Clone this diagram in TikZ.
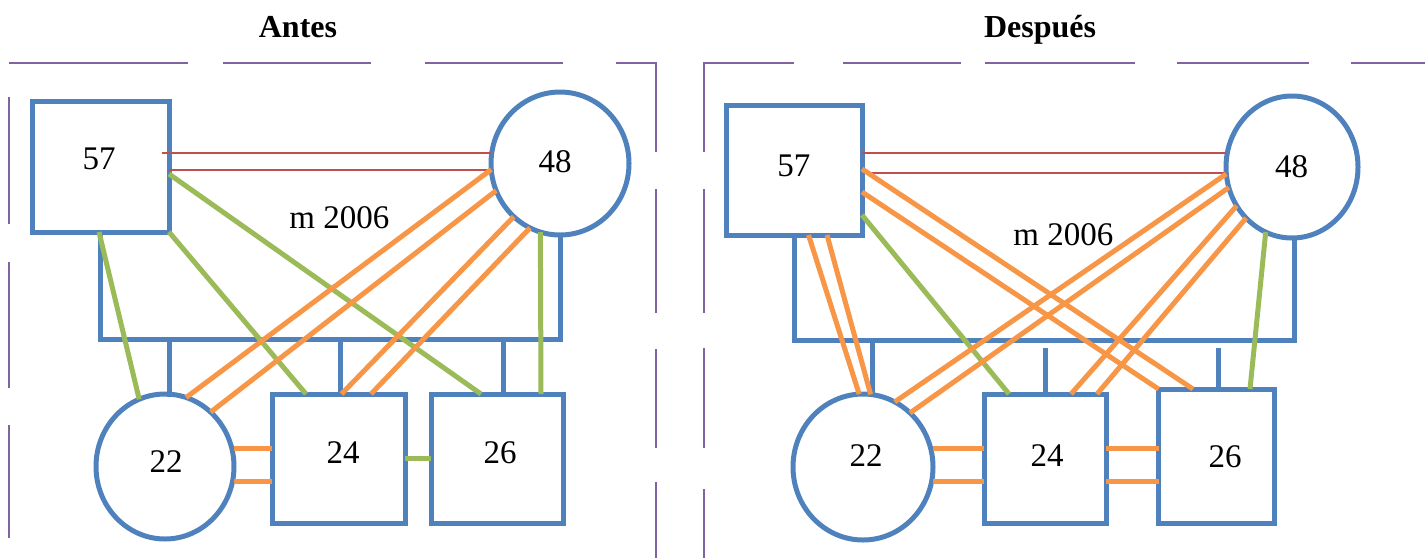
\documentclass[tikz,border=0pt]{standalone}
\usepackage{fontspec}
\setmainfont{Liberation Serif}
\usetikzlibrary{shapes.geometric,calc}
\definecolor{oblue}{HTML}{4F81BD}
\definecolor{oorange}{HTML}{F79646}
\definecolor{ogreen}{HTML}{9BBB59}
\definecolor{ored}{HTML}{C0504D}
\definecolor{opurple}{HTML}{8064A2}
\begin{document}
\begin{tikzpicture}[x=1pt,y=-1pt,
  sq/.style={rectangle,draw=oblue,line width=5pt,inner sep=0pt,outer sep=0pt},
  circ/.style={ellipse,draw=oblue,line width=5pt,inner sep=0pt,outer sep=0pt},
  fam/.style={draw=oblue,line width=5pt,line cap=rect},
  gr/.style={draw=ogreen,line width=5pt},
  orl/.style={draw=oorange,line width=5pt},
  rd/.style={draw=ored,line width=1.8pt},
  frame/.style={draw=opurple,line width=1.8pt},
  lab/.style={font=\fontsize{33}{40}\selectfont,inner sep=0pt,anchor=base},
  ttl/.style={font=\fontsize{32}{38}\selectfont\bfseries,inner sep=0pt,anchor=base}]
\useasboundingbox (0,0) rectangle (1425,558);

% dashed frames
\draw[frame] (9,63)--(187.5,63) (223,63)--(370.5,63) (425,63)--(562.5,63);
\draw[frame] (616,63)--(656,63)--(656,152);
\draw[frame] (656,189)--(656,313) (656,349)--(656,448) (656,482)--(656,558);
\draw[frame] (9,97)--(9,224) (9,262)--(9,388) (9,425)--(9,538);
\draw[frame] (704,152)--(704,63)--(794,63);
\draw[frame] (843,63)--(961,63) (985,63)--(1135,63) (1177,63)--(1309,63) (1351,63)--(1425,63);
\draw[frame] (704,189)--(704,313) (704,348)--(704,448) (704,489)--(704,558);

% titles
\node[ttl] (tA) at (298,37.5) {Antes};
\node[ttl] (tD) at (1040,37.5) {Después};

% left nodes
\node[sq,minimum width=137pt,minimum height=131pt] (L57) at (100.5,166.5) {};
\node[circ,minimum width=138pt,minimum height=143pt] (L48) at (560,163.5) {};
\node[circ,minimum width=138pt,minimum height=145pt] (L22) at (165,466.5) {};
\node[sq,minimum width=133pt,minimum height=129pt] (L24) at (338.5,458.5) {};
\node[sq,minimum width=132pt,minimum height=129pt] (L26) at (497,458.5) {};

% right nodes
\node[sq,minimum width=136pt,minimum height=130pt] (R57) at (794,170) {};
\node[circ,minimum width=132pt,minimum height=142pt] (R48) at (1292,167) {};
\node[circ,minimum width=140pt,minimum height=146pt] (R22) at (863,467) {};
\node[sq,minimum width=122pt,minimum height=129pt] (R24) at (1045,458.5) {};
\node[sq,minimum width=116pt,minimum height=134pt] (R26) at (1216.5,456) {};

% labels
\node[lab] (l57) at (99,169.3) {57};
\node[lab] (l48) at (555,172.7) {48};
\node[lab] (lm) at (339.3,228.3) {m 2006};
\node[lab] (l22) at (166,472.3) {22};
\node[lab] (l24) at (343,463.3) {24};
\node[lab] (l26) at (500,463.3) {26};
\node[lab] (r57) at (793.8,176) {57};
\node[lab] (r48) at (1291.5,177.3) {48};
\node[lab] (rm) at (1063.4,245.7) {m 2006};
\node[lab] (r22) at (866,466.7) {22};
\node[lab] (r24) at (1047,466) {24};
\node[lab] (r26) at (1225,467.3) {26};

% ---------- left family lines
\coordinate (Lbar) at (328,339);
\draw[fam] (L57.south) -- (L57.south |- Lbar) -- (L48.south |- Lbar) -- (L48.south);
\path ([xshift=4pt]L22.north) coordinate (Ld22)
      ([xshift=1.5pt]L24.north) coordinate (Ld24)
      ([xshift=6.5pt]L26.north) coordinate (Ld26);
\draw[fam] (Ld22) -- (Ld22 |- Lbar);
\draw[fam] (Ld24) -- (Ld24 |- Lbar);
\draw[fam] (Ld26) -- (Ld26 |- Lbar);

% left red double
\path ([xshift=-7pt,yshift=13.5pt]L57.east) coordinate (Lr1)
      ([yshift=-3.5pt]L57.east) coordinate (Lr2);
\draw[rd] (Lr1) -- (Lr1 -| L48.west);
\draw[rd] (Lr2) -- (Lr2 -| L48.west);

% left green
\draw[gr] ([xshift=-1.5pt]L57.south) -- (L22.111);
\draw[gr] (L57.south east) -- ([xshift=-32.5pt]L24.north);
\draw[gr] ([yshift=-7.5pt]L57.east) -- ([xshift=-16pt]L26.north);
\draw[gr] (L48.254.5) -- ([xshift=44pt]L26.north);
\draw[gr] (L24.east) -- (L26.west);

% left orange
\draw[orl] (L48.185) -- (L22.73);
\draw[orl] (L48.203) -- (L22.50);
\draw[orl] (L48.229) -- ([xshift=3pt]L24.north);
\draw[orl] (L48.245) -- ([xshift=32.5pt]L24.north);
\path ([yshift=10.5pt]L24.west) coordinate (La1)
      ([yshift=-22.5pt]L24.west) coordinate (La2);
\draw[orl] (La1) -- (La1 -| L22.east);
\draw[orl] (La2) -- (La2 -| L22.east);

% ---------- right family lines
\coordinate (Rbar) at (1040,340);
\path ([xshift=2.6pt]R48.south) coordinate (Rd48);
\draw[fam] (R57.south) -- (R57.south |- Rbar) -- (Rd48 |- Rbar) -- (Rd48);
\path ([xshift=9pt]R22.north) coordinate (Rd22)
      (R24.north) coordinate (Rd24)
      ([xshift=2.3pt]R26.north) coordinate (Rd26);
\draw[fam] (Rd22) -- (Rd22 |- Rbar);
\draw[fam] (Rd24) -- ([yshift=-10pt]Rd24 |- Rbar);
\draw[fam] (Rd26) -- ([yshift=-10pt]Rd26 |- Rbar);

% right red double
\path ([yshift=17.3pt]R57.east) coordinate (Rr1)
      ([xshift=9pt,yshift=-3pt]R57.east) coordinate (Rr2);
\draw[rd] (Rr1) -- (Rr1 -| R48.west);
\draw[rd] (Rr2) -- (Rr2 -| R48.west);

% right green
\draw[gr] ([yshift=-45pt]R57.east) -- ([xshift=-36pt]R24.north);
\draw[gr] (R48.248) -- ([xshift=33.5pt]R26.north);

% right orange
\draw[orl] ([xshift=14.5pt]R57.south) -- (R22.93);
\draw[orl] ([xshift=33pt]R57.south) -- (R22.84);
\draw[orl] ([yshift=1pt]R57.east) -- ([xshift=-23.5pt]R26.north);
\draw[orl] ([yshift=-22pt]R57.east) -- (R26.north west);
\draw[orl] (R48.186) -- (R22.64);
\draw[orl] (R48.198) -- (R22.49);
\draw[orl] (R48.215) -- ([xshift=26pt]R24.north);
\draw[orl] (R48.228) -- ([xshift=52pt]R24.north);
\path ([yshift=10pt]R24.west) coordinate (Ra1)
      ([yshift=-22.5pt]R24.west) coordinate (Ra2)
      ([yshift=7.5pt]R26.west) coordinate (Rb1)
      ([yshift=-25pt]R26.west) coordinate (Rb2);
\draw[orl] (Ra1) -- (Ra1 -| R22.east);
\draw[orl] (Ra2) -- (Ra2 -| R22.east);
\draw[orl] (Rb1) -- (Rb1 -| R24.east);
\draw[orl] (Rb2) -- (Rb2 -| R24.east);
\end{tikzpicture}
\end{document}
